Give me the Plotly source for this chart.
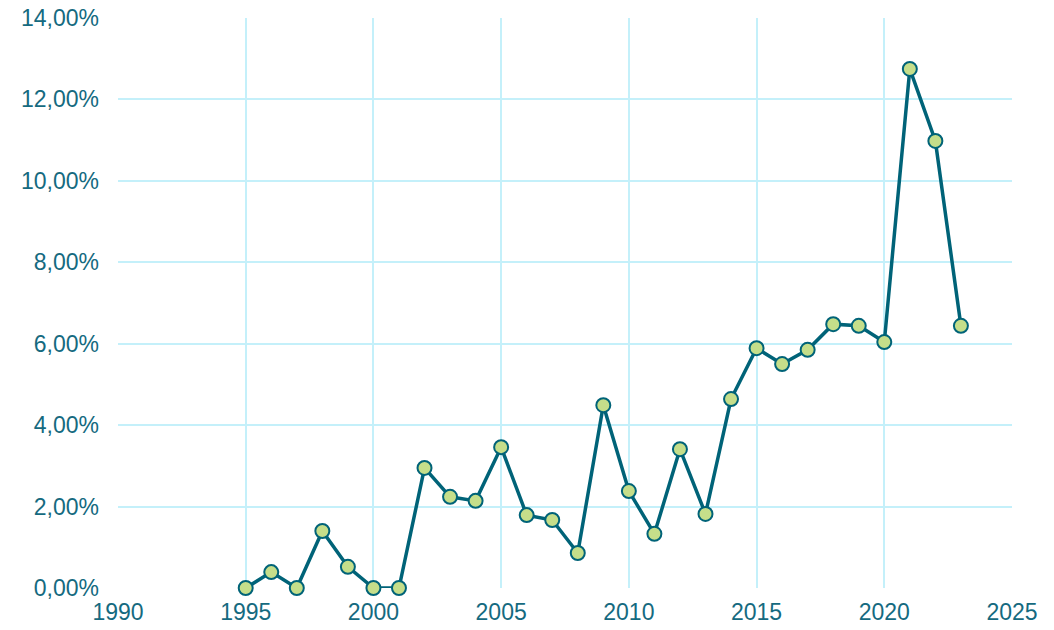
import plotly.graph_objects as go

years = list(range(1995, 2024))
values_pct = [0.00, 0.39, 0.00, 1.40, 0.52, 0.00, 0.00, 2.95, 2.24, 2.14,
              3.46, 1.79, 1.67, 0.86, 4.49, 2.38, 1.33, 3.41, 1.82, 4.64,
              5.89, 5.50, 5.85, 6.48, 6.44, 6.04, 12.75, 10.98, 6.44]
values = [v / 100 for v in values_pct]

line_color = "#006378"
marker_fill = "#C5DE8A"
grid_color = "#C4F0FA"
text_color = "#156A80"

fig = go.Figure()
fig.add_trace(go.Scatter(
    x=years, y=values, mode="lines+markers",
    line=dict(color=line_color, width=3.5),
    marker=dict(size=14, color=marker_fill, line=dict(color=line_color, width=2)),
    cliponaxis=False,
))

fig.update_layout(
    width=1054, height=630,
    margin=dict(l=118, r=42, t=18, b=42, autoexpand=False),
    paper_bgcolor="white", plot_bgcolor="white",
    separators=",.",
    showlegend=False,
    font=dict(family="Liberation Sans, Arial, sans-serif", size=23, color=text_color),
)
fig.update_xaxes(range=[1990, 2025], dtick=5, tick0=1990, showgrid=True,
                 gridcolor=grid_color, gridwidth=1.5, zeroline=False,
                 showline=False, ticks="", ticklen=0, ticklabelstandoff=8)
fig.update_yaxes(range=[0, 0.14], dtick=0.02, tickformat=".2%", showgrid=True,
                 gridcolor=grid_color, gridwidth=1.5, zeroline=False,
                 showline=False, ticks="", ticklen=0, ticklabelstandoff=18)

fig.write_html("out.html", config={"displayModeBar": False},
               post_script="document.body.style.margin='0';document.body.style.padding='0';")
